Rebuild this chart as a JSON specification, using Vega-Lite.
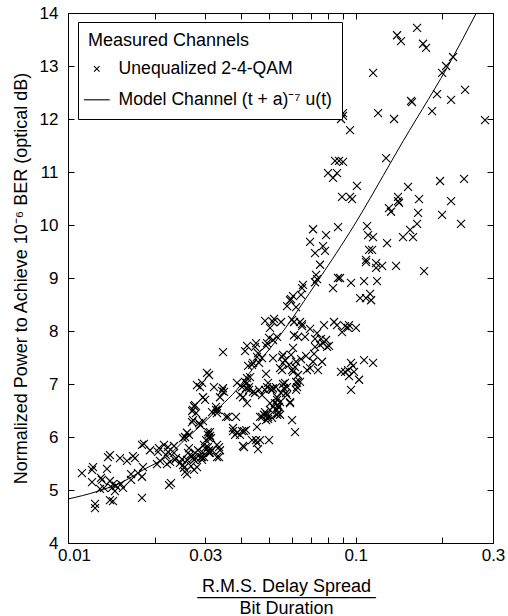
{
  "$schema": "https://vega.github.io/schema/vega-lite/v6.json",
  "width": 425,
  "height": 530,
  "autosize": {"type": "none"},
  "padding": {"left": 68, "top": 13, "right": 15, "bottom": 73},
  "config": {
    "font": "Liberation Sans",
    "view": {"stroke": "black", "strokeWidth": 1},
    "axis": {
      "grid": false, "domain": false, "tickColor": "black", "tickSize": -6, "tickWidth": 1,
      "labelColor": "black", "labelFontSize": 17, "labelFont": "Liberation Sans",
      "titleColor": "black", "titleFontSize": 18, "titleFontWeight": "normal", "titleFont": "Liberation Sans",
      "labelOverlap": false, "labelFlush": false
    }
  },
  "layer": [
    {
      "data": {"values": [
        {"spread":0.01118,"power":5.32},{"spread":0.01212,"power":5.38},{"spread":0.01222,"power":5.43},{"spread":0.01212,"power":5.15},{"spread":0.01242,"power":4.74},{"spread":0.01242,"power":4.66},{"spread":0.01292,"power":5.02},{"spread":0.01302,"power":5.23},{"spread":0.01312,"power":5.19},{"spread":0.01366,"power":5.40},
        {"spread":0.01377,"power":5.62},{"spread":0.01399,"power":5.66},{"spread":0.01399,"power":5.17},{"spread":0.01422,"power":5.04},{"spread":0.01433,"power":5.11},{"spread":0.01399,"power":4.81},{"spread":0.01433,"power":4.79},{"spread":0.01468,"power":5.08},{"spread":0.01456,"power":4.98},{"spread":0.01516,"power":5.60},
        {"spread":0.01553,"power":5.04},{"spread":0.01528,"power":5.11},{"spread":0.01603,"power":5.55},{"spread":0.01682,"power":5.64},{"spread":0.01709,"power":5.60},{"spread":0.01656,"power":5.30},{"spread":0.01656,"power":5.19},{"spread":0.01751,"power":5.32},{"spread":0.01808,"power":5.25},{"spread":0.01822,"power":5.43},
        {"spread":0.01808,"power":4.85},{"spread":0.01808,"power":5.85},{"spread":0.01837,"power":5.87},{"spread":0.01928,"power":5.75},{"spread":0.02055,"power":5.72},{"spread":0.02071,"power":5.79},{"spread":0.02039,"power":5.49},{"spread":0.02088,"power":5.55},{"spread":0.02156,"power":5.85},{"spread":0.02191,"power":5.66},
        {"spread":0.02226,"power":5.72},{"spread":0.02208,"power":5.49},{"spread":0.02262,"power":5.53},{"spread":0.02244,"power":5.09},{"spread":0.02280,"power":5.13},{"spread":0.02226,"power":5.81},{"spread":0.01334,"power":5.04},{"spread":0.02336,"power":5.70},{"spread":0.02373,"power":5.60},{"spread":0.02336,"power":5.83},
        {"spread":0.02354,"power":5.57},{"spread":0.02451,"power":5.51},{"spread":0.02490,"power":5.58},{"spread":0.02510,"power":5.47},{"spread":0.02531,"power":5.42},{"spread":0.02551,"power":5.34},{"spread":0.02592,"power":5.30},{"spread":0.02592,"power":5.57},{"spread":0.02655,"power":5.66},{"spread":0.02613,"power":5.70},
        {"spread":0.02698,"power":5.64},{"spread":0.02592,"power":6.08},{"spread":0.02634,"power":6.04},{"spread":0.02698,"power":6.28},{"spread":0.02720,"power":6.32},{"spread":0.02720,"power":6.51},{"spread":0.02742,"power":6.58},{"spread":0.02742,"power":5.57},{"spread":0.02808,"power":5.43},{"spread":0.02742,"power":5.38},
        {"spread":0.02900,"power":5.62},{"spread":0.02923,"power":5.57},{"spread":0.02854,"power":6.26},{"spread":0.02946,"power":6.30},{"spread":0.02786,"power":5.60},{"spread":0.02831,"power":5.75},{"spread":0.02970,"power":5.85},{"spread":0.02994,"power":5.79},{"spread":0.02970,"power":5.62},{"spread":0.03066,"power":5.81},
        {"spread":0.03091,"power":5.75},{"spread":0.03091,"power":5.70},{"spread":0.03091,"power":5.98},{"spread":0.03116,"power":6.02},{"spread":0.03066,"power":6.09},{"spread":0.03018,"power":5.94},{"spread":0.02677,"power":5.45},{"spread":0.02634,"power":5.79},{"spread":0.02720,"power":5.60},{"spread":0.02764,"power":5.70},
        {"spread":0.02786,"power":6.45},{"spread":0.02764,"power":6.60},{"spread":0.02700,"power":6.49},{"spread":0.02877,"power":6.23},{"spread":0.02877,"power":6.94},{"spread":0.02923,"power":7.02},{"spread":0.02808,"power":6.98},{"spread":0.03042,"power":7.21},{"spread":0.03091,"power":7.17},{"spread":0.02946,"power":6.75},
        {"spread":0.02994,"power":6.70},{"spread":0.02551,"power":6.00},{"spread":0.02510,"power":5.98},{"spread":0.03217,"power":6.94},{"spread":0.03269,"power":6.57},{"spread":0.03269,"power":6.51},{"spread":0.03166,"power":6.47},{"spread":0.03322,"power":6.51},{"spread":0.03295,"power":6.45},{"spread":0.03349,"power":5.62},
        {"spread":0.03295,"power":5.85},{"spread":0.03349,"power":5.81},{"spread":0.03376,"power":5.75},{"spread":0.03295,"power":5.62},{"spread":0.03116,"power":5.70},{"spread":0.03166,"power":5.75},{"spread":0.02946,"power":5.70},{"spread":0.02923,"power":5.62},{"spread":0.03116,"power":6.09},{"spread":0.03066,"power":6.04},
        {"spread":0.03141,"power":5.98},{"spread":0.03458,"power":6.92},{"spread":0.03430,"power":6.87},{"spread":0.03485,"power":6.85},{"spread":0.03376,"power":6.75},{"spread":0.03458,"power":7.60},{"spread":0.03542,"power":6.38},{"spread":0.03599,"power":6.38},{"spread":0.03837,"power":6.38},{"spread":0.03746,"power":6.17},
        {"spread":0.03746,"power":6.11},{"spread":0.03868,"power":6.08},{"spread":0.03806,"power":6.04},{"spread":0.03962,"power":6.04},{"spread":0.04026,"power":6.11},{"spread":0.04091,"power":6.11},{"spread":0.04157,"power":6.13},{"spread":0.04058,"power":5.83},{"spread":0.04091,"power":5.81},{"spread":0.03868,"power":7.02},
        {"spread":0.04026,"power":6.94},{"spread":0.04058,"power":6.75},{"spread":0.03962,"power":6.79},{"spread":0.04124,"power":7.04},{"spread":0.04190,"power":7.11},{"spread":0.04190,"power":7.02},{"spread":0.04258,"power":6.94},{"spread":0.04258,"power":6.89},{"spread":0.04157,"power":6.92},{"spread":0.04292,"power":7.13},
        {"spread":0.04396,"power":6.85},{"spread":0.04467,"power":6.83},{"spread":0.04190,"power":6.64},{"spread":0.04361,"power":7.36},{"spread":0.04396,"power":7.40},{"spread":0.04224,"power":7.34},{"spread":0.04124,"power":7.62},{"spread":0.04190,"power":7.72},{"spread":0.04503,"power":7.77},{"spread":0.04467,"power":7.70},
        {"spread":0.04576,"power":7.58},{"spread":0.04539,"power":7.51},{"spread":0.04725,"power":7.49},{"spread":0.04613,"power":7.40},{"spread":0.04503,"power":5.94},{"spread":0.04539,"power":5.89},{"spread":0.04650,"power":5.94},{"spread":0.04576,"power":5.77},{"spread":0.04539,"power":6.19},{"spread":0.04725,"power":6.38},
        {"spread":0.04801,"power":6.42},{"spread":0.04918,"power":6.42},{"spread":0.04957,"power":6.38},{"spread":0.04361,"power":5.94},{"spread":0.04613,"power":6.89},{"spread":0.04725,"power":6.79},{"spread":0.04840,"power":6.89},{"spread":0.04918,"power":6.94},{"spread":0.04957,"power":7.02},{"spread":0.05037,"power":6.91},
        {"spread":0.05159,"power":6.92},{"spread":0.05285,"power":6.94},{"spread":0.05327,"power":6.75},{"spread":0.05327,"power":6.70},{"spread":0.05457,"power":6.66},{"spread":0.05370,"power":6.57},{"spread":0.05327,"power":6.51},{"spread":0.05679,"power":7.02},{"spread":0.05634,"power":6.92},{"spread":0.05771,"power":6.79},
        {"spread":0.05912,"power":6.66},{"spread":0.06253,"power":7.02},{"spread":0.06253,"power":6.94},{"spread":0.06203,"power":6.89},{"spread":0.06302,"power":7.17},{"spread":0.05037,"power":6.64},{"spread":0.05159,"power":6.57},{"spread":0.04840,"power":6.47},{"spread":0.04879,"power":6.32},{"spread":0.04957,"power":6.34},
        {"spread":0.04650,"power":6.38},{"spread":0.05370,"power":6.45},{"spread":0.05327,"power":6.42},{"spread":0.05118,"power":6.36},{"spread":0.06007,"power":6.32},{"spread":0.06153,"power":6.09},{"spread":0.04997,"power":5.94},{"spread":0.05037,"power":6.51},{"spread":0.05242,"power":6.64},{"spread":0.05370,"power":6.60},
        {"spread":0.05413,"power":6.57},{"spread":0.05457,"power":6.42},{"spread":0.05912,"power":6.64},{"spread":0.04879,"power":7.19},{"spread":0.04918,"power":7.77},{"spread":0.04879,"power":7.72},{"spread":0.04840,"power":8.19},{"spread":0.05037,"power":8.06},{"spread":0.04997,"power":7.87},{"spread":0.05159,"power":7.83},
        {"spread":0.05327,"power":7.89},{"spread":0.05159,"power":7.49},{"spread":0.05545,"power":7.51},{"spread":0.05589,"power":7.55},{"spread":0.05679,"power":7.45},{"spread":0.05589,"power":7.40},{"spread":0.05457,"power":7.30},{"spread":0.05545,"power":7.26},{"spread":0.06055,"power":7.68},{"spread":0.06203,"power":7.42},
        {"spread":0.06153,"power":7.32},{"spread":0.06007,"power":7.26},{"spread":0.06055,"power":7.23},{"spread":0.06773,"power":7.26},{"spread":0.05201,"power":8.23},{"spread":0.05159,"power":8.17},{"spread":0.05501,"power":8.17},{"spread":0.06007,"power":8.21},{"spread":0.06104,"power":8.17},{"spread":0.05771,"power":8.47},
        {"spread":0.06203,"power":8.45},{"spread":0.05959,"power":8.60},{"spread":0.06055,"power":8.66},{"spread":0.06404,"power":8.17},{"spread":0.06507,"power":8.13},{"spread":0.06507,"power":8.09},{"spread":0.06104,"power":7.92},{"spread":0.06302,"power":7.89},{"spread":0.05725,"power":6.83},{"spread":0.05501,"power":6.83},
        {"spread":0.05589,"power":7.00},{"spread":0.05771,"power":6.94},{"spread":0.05118,"power":6.89},{"spread":0.06203,"power":7.04},{"spread":0.06665,"power":7.89},{"spread":0.06939,"power":8.04},{"spread":0.07338,"power":7.96},{"spread":0.07221,"power":7.85},{"spread":0.07576,"power":7.85},{"spread":0.07698,"power":7.77},
        {"spread":0.08407,"power":8.17},{"spread":0.08612,"power":8.11},{"spread":0.09478,"power":8.11},{"spread":0.09402,"power":8.06},{"spread":0.1002,"power":8.06},{"spread":0.07760,"power":8.11},{"spread":0.09181,"power":8.09},{"spread":0.1069,"power":7.45},{"spread":0.1149,"power":7.40},{"spread":0.09631,"power":7.40},
        {"spread":0.09786,"power":7.34},{"spread":0.09181,"power":7.23},{"spread":0.09402,"power":7.26},{"spread":0.09865,"power":7.23},{"spread":0.09478,"power":7.15},{"spread":0.1027,"power":7.08},{"spread":0.09631,"power":6.89},{"spread":0.08892,"power":7.23},{"spread":0.07107,"power":7.42},{"spread":0.06939,"power":7.30},
        {"spread":0.07636,"power":7.42},{"spread":0.07396,"power":7.26},{"spread":0.08077,"power":7.72},{"spread":0.07948,"power":7.70},{"spread":0.07221,"power":7.70},{"spread":0.06719,"power":7.53},{"spread":0.06455,"power":7.47},{"spread":0.05959,"power":7.55},{"spread":0.05865,"power":7.36},{"spread":0.06559,"power":8.87},
        {"spread":0.06507,"power":8.81},{"spread":0.07279,"power":9.06},{"spread":0.07221,"power":8.92},{"spread":0.08340,"power":8.81},{"spread":0.08681,"power":9.00},{"spread":0.08822,"power":9.00},{"spread":0.07516,"power":9.25},{"spread":0.07107,"power":9.92},{"spread":0.07885,"power":9.81},{"spread":0.06939,"power":9.68},
        {"spread":0.07698,"power":9.60},{"spread":0.07822,"power":9.51},{"spread":0.07221,"power":9.47},{"spread":0.08681,"power":9.96},{"spread":0.09631,"power":8.91},{"spread":0.1036,"power":8.62},{"spread":0.1122,"power":8.70},{"spread":0.1131,"power":8.58},{"spread":0.1069,"power":8.94},{"spread":0.1186,"power":8.94},
        {"spread":0.08013,"power":10.98},{"spread":0.08340,"power":10.89},{"spread":0.08612,"power":10.98},{"spread":0.08475,"power":11.21},{"spread":0.08751,"power":11.21},{"spread":0.09035,"power":11.19},{"spread":0.09035,"power":12.11},{"spread":0.09035,"power":12.06},{"spread":0.08892,"power":12.00},{"spread":0.09554,"power":11.79},
        {"spread":0.1010,"power":10.74},{"spread":0.08963,"power":10.53},{"spread":0.09554,"power":10.53},{"spread":0.09708,"power":10.49},{"spread":0.1149,"power":12.87},{"spread":0.1196,"power":12.11},{"spread":0.1359,"power":12.00},{"spread":0.1275,"power":11.26},{"spread":0.1086,"power":9.34},{"spread":0.1086,"power":9.30},
        {"spread":0.1177,"power":9.28},{"spread":0.1177,"power":9.19},{"spread":0.1235,"power":9.23},{"spread":0.1381,"power":9.23},{"spread":0.1728,"power":9.13},{"spread":0.1095,"power":9.98},{"spread":0.1104,"power":9.81},{"spread":0.1113,"power":9.53},{"spread":0.1140,"power":9.53},{"spread":0.1149,"power":9.77},
        {"spread":0.1285,"power":9.66},{"spread":0.1545,"power":9.91},{"spread":0.1460,"power":9.77},{"spread":0.1582,"power":9.77},{"spread":0.1634,"power":10.02},{"spread":0.2323,"power":10.02},{"spread":0.1305,"power":10.32},{"spread":0.1326,"power":10.25},{"spread":0.1414,"power":10.42},{"spread":0.1403,"power":10.53},
        {"spread":0.1647,"power":10.23},{"spread":0.1996,"power":10.19},{"spread":0.1660,"power":10.49},{"spread":0.1520,"power":10.72},{"spread":0.2145,"power":10.45},{"spread":0.1964,"power":10.83},{"spread":0.2380,"power":10.87},{"spread":0.1634,"power":13.72},{"spread":0.1392,"power":13.58},{"spread":0.1437,"power":13.47},
        {"spread":0.1714,"power":13.42},{"spread":0.1756,"power":13.34},{"spread":0.2179,"power":13.17},{"spread":0.2061,"power":13.00},{"spread":0.1996,"power":12.87},{"spread":0.1557,"power":12.34},{"spread":0.1569,"power":12.32},{"spread":0.2399,"power":12.55},{"spread":0.1917,"power":12.47},{"spread":0.2145,"power":12.36},
        {"spread":0.1842,"power":12.15},{"spread":0.2815,"power":11.98},{"spread":0.08963,"power":7.98},{"spread":0.07885,"power":7.83},{"spread":0.07516,"power":7.74},{"spread":0.07164,"power":7.57},{"spread":0.06404,"power":7.04},{"spread":0.1086,"power":8.62},{"spread":0.07338,"power":8.98},{"spread":0.06455,"power":8.68},
        {"spread":0.05912,"power":8.58},{"spread":0.1403,"power":10.45}
      ]},
      "mark": {"type": "point", "filled": false, "stroke": "black", "strokeWidth": 1.1, "size": 64, "opacity": 1},
      "encoding": {
        "x": {
          "field": "spread", "type": "quantitative",
          "scale": {"type": "log", "domain": [0.01, 0.3], "nice": false},
          "axis": {
            "orient": "bottom",
            "values": [0.01, 0.02, 0.03, 0.04, 0.05, 0.06, 0.07, 0.08, 0.09, 0.1, 0.2, 0.3],
            "format": "~g",
            "labelExpr": "datum.value == 0.01 || datum.value == 0.03 || datum.value == 0.1 || datum.value == 0.3 ? datum.label : ''",
            "labelOffset": {"condition": {"test": "datum.value == 0.01", "value": 6}, "value": 0},
            "labelPadding": 10,
            "title": ["R.M.S. Delay Spread", "──────────────", "Bit Duration"],
            "titleLineHeight": 11,
            "titleX": 218,
            "titleY": 34,
            "titleBaseline": "top"
          }
        },
        "y": {
          "field": "power", "type": "quantitative",
          "scale": {"domain": [4, 14], "nice": false, "zero": false},
          "axis": {
            "orient": "left",
            "values": [4, 5, 6, 7, 8, 9, 10, 11, 12, 13, 14],
            "labelPadding": 16,
            "title": "Normalized Power to Achieve 10⁻⁶ BER (optical dB)",
            "titleX": -38,
            "titleY": 265
          }
        },
        "shape": {
          "datum": "Unequalized 2-4-QAM",
          "type": "nominal",
          "scale": {
            "domain": ["Unequalized 2-4-QAM", "Model Channel (t + a)⁻⁷ u(t)"],
            "range": ["M-1,-1L1,1M-1,1L1,-1", "M-4.7,0L4.7,0"]
          },
          "legend": {
            "title": "Measured Channels",
            "orient": "none", "legendX": 10, "legendY": 9,
            "padding": 10, "fillColor": "white", "strokeColor": "black",
            "titleFontSize": 18, "titleFontWeight": "normal", "titleColor": "black", "titleFont": "Liberation Sans", "titlePadding": 10,
            "labelFontSize": 17.6, "labelColor": "black", "labelFont": "Liberation Sans", "labelLimit": 400, "labelOffset": 13,
            "symbolSize": 30, "symbolStrokeColor": "black", "symbolStrokeWidth": 1.1, "symbolFillColor": "transparent",
            "symbolOffset": 0, "rowPadding": 12
          }
        }
      }
    },
    {
      "data": {"values": [
        {"spread":0.01,"power":4.83},{"spread":0.01258,"power":4.97},{"spread":0.01557,"power":5.16},{"spread":0.01827,"power":5.38},
        {"spread":0.02203,"power":5.63},{"spread":0.02586,"power":5.98},{"spread":0.02953,"power":6.26},{"spread":0.03376,"power":6.57},
        {"spread":0.03859,"power":6.89},{"spread":0.04406,"power":7.30},{"spread":0.05036,"power":7.67},{"spread":0.07222,"power":8.87},
        {"spread":0.09554,"power":9.87},{"spread":0.1464,"power":11.59},{"spread":0.2184,"power":13.18},{"spread":0.2625,"power":14.0}
      ]},
      "mark": {"type": "line", "color": "black", "strokeWidth": 1, "clip": true, "interpolate": "monotone"},
      "encoding": {
        "x": {
          "field": "spread", "type": "quantitative",
          "axis": {"orient": "top", "labels": false, "title": null,
                   "values": [0.01, 0.02, 0.03, 0.04, 0.05, 0.06, 0.07, 0.08, 0.09, 0.1, 0.2, 0.3]}
        },
        "y": {
          "field": "power", "type": "quantitative",
          "axis": {"orient": "right", "labels": false, "title": null,
                   "values": [4, 5, 6, 7, 8, 9, 10, 11, 12, 13, 14]}
        }
      }
    }
  ],
  "resolve": {"axis": {"x": "independent", "y": "independent"}}
}
